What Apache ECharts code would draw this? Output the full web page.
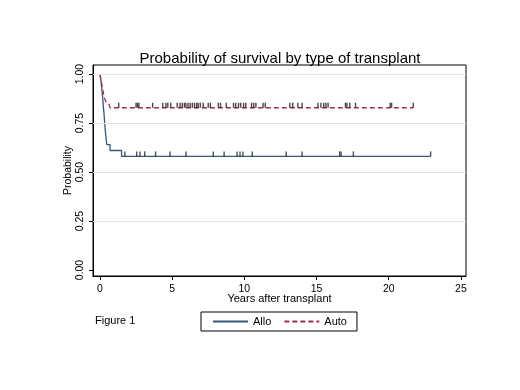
<!DOCTYPE html>
<html>
<head>
<meta charset="utf-8">
<script src="https://cdn.jsdelivr.net/npm/echarts@6/dist/echarts.min.js"></script>
<style>
  html, body { margin: 0; padding: 0; background: #fff; }
  #main { width: 520px; height: 390px; }
</style>
</head>
<body>
<div id="main"></div>
<script>
// Kaplan-Meier steps
const alloTimes = [0, 0.04, 0.08, 0.12, 0.16, 0.2, 0.24, 0.28, 0.32, 0.36, 0.4, 0.44, 0.48, 0.7, 1.5, 22.9];
const alloSurv = [1, 0.98, 0.96, 0.93, 0.9, 0.87, 0.83, 0.8, 0.76, 0.72, 0.69, 0.66, 0.64, 0.61, 0.58, 0.58];
const autoTimes = [0, 0.05, 0.1, 0.15, 0.2, 0.25, 0.3, 0.4, 0.5, 0.6, 0.7, 21.7];
const autoSurv = [1, 0.98, 0.96, 0.94, 0.92, 0.9, 0.88, 0.86, 0.85, 0.84, 0.828, 0.828];

// censoring times (small ticks on the curves)
const alloCensor = [1.73, 2.55, 2.77, 3.1, 3.85, 4.85, 5.96, 7.85, 8.6, 9.5, 9.7, 9.9, 10.55, 12.9, 14.0, 16.6, 16.7, 17.55, 22.9];
const autoCensor = [1.3, 2.5, 2.6, 2.7, 3.65, 4.35, 4.57, 4.7, 4.9, 5.35, 5.55, 5.7, 5.85, 5.95, 6.1, 6.25, 6.4, 6.55, 6.7, 6.8, 6.95, 7.15, 7.5, 7.65, 8.2, 8.35, 8.75, 9.25, 9.4, 9.6, 9.75, 9.95, 10.1, 10.5, 10.65, 10.8, 11.3, 11.45, 13.15, 13.35, 13.7, 14.0, 15.1, 15.3, 15.5, 15.65, 15.8, 17.0, 17.1, 17.3, 17.7, 20.1, 20.2, 21.7];

const xTicks = [0, 5, 10, 15, 20, 25];
const yTicks = [0, 0.25, 0.5, 0.75, 1];
const yGrid = [0.25, 0.5, 0.75, 1];

const font = 'Liberation Sans, Arial, sans-serif';

function pairs(ts, vs) {
  return ts.map((t, i) => [t, vs[i]]);
}
// survival value at time t from the step data
function survAt(ts, vs, t) {
  let s = vs[0];
  for (let i = 0; i < ts.length; i++) {
    if (ts[i] <= t) s = vs[i];
  }
  return s;
}

const chart = echarts.init(document.getElementById('main'));
const option = {
  animation: false,
  backgroundColor: '#fff',
  title: {
    text: 'Probability of survival by type of transplant',
    left: 275,
    top: 46,
    textAlign: 'center',
    textStyle: {fontFamily: font, fontSize: 15, fontWeight: 'normal', color: '#000'},
  },
  legend: {
    data: ['Allo', 'Auto'],
    left: 201,
    top: 312,
    borderColor: '#000',
    borderWidth: 1,
    padding: [4, 10, 4, 11],
    itemWidth: 35,
    itemHeight: 10,
    itemGap: 12,
    itemStyle: {opacity: 0, color: 'rgba(0,0,0,0)', borderWidth: 0},
    textStyle: {fontFamily: font, fontSize: 11, color: '#000'},
  },
  graphic: [{
    type: 'text',
    left: 95,
    top: 315,
    style: {text: 'Figure 1', font: '11px ' + font, fill: '#000'},
  }],
  grid: {
    left: 93,
    right: 54,
    top: 65,
    bottom: 114,
    show: true,
    borderColor: '#000',
    borderWidth: 1,
  },
  xAxis: {
    type: 'value',
    min: -0.48,
    max: 25.35,
    name: 'Years after transplant',
    nameLocation: 'middle',
    nameGap: 17,
    nameMoveOverlap: false,
    nameTextStyle: {fontFamily: font, fontSize: 11, color: '#000'},
    axisLine: {show: true, onZero: false, lineStyle: {color: '#000'}},
    axisTick: {show: true, customValues: xTicks, length: 4, lineStyle: {color: '#000'}},
    axisLabel: {customValues: xTicks, margin: 8, fontFamily: font, fontSize: 10.5, color: '#000'},
    splitLine: {show: false},
  },
  yAxis: {
    type: 'value',
    min: -0.03,
    max: 1.046,
    name: 'Probability',
    nameLocation: 'middle',
    nameGap: 19,
    nameMoveOverlap: false,
    nameTextStyle: {fontFamily: font, fontSize: 10.5, color: '#000'},
    axisLine: {show: true, onZero: false, lineStyle: {color: '#000'}},
    axisTick: {show: true, customValues: yTicks, length: 4, lineStyle: {color: '#000'}},
    axisLabel: {
      customValues: yTicks,
      rotate: 90,
      margin: 7,
      fontFamily: font,
      fontSize: 10.5,
      color: '#000',
      formatter: v => v.toFixed(2),
    },
    splitLine: {show: false},
  },
  series: [
    {
      name: 'grid',
      type: 'line',
      data: [],
      silent: true,
      z: 1,
      markLine: {
        silent: true,
        symbol: 'none',
        label: {show: false},
        lineStyle: {color: '#e3e3e3', type: 'solid', width: 1},
        data: yGrid.map(v => ({yAxis: v})),
      },
    },
    {
      name: 'Allo',
      type: 'line',
      step: 'end',
      symbol: 'none',
      z: 3,
      color: '#35587a',
      lineStyle: {width: 1.3, color: '#35587a'},
      data: pairs(alloTimes, alloSurv),
    },
    {
      name: 'Auto',
      type: 'line',
      step: 'end',
      symbol: 'none',
      z: 3,
      color: '#a3304c',
      lineStyle: {width: 1.3, color: '#a3304c', type: [5, 3]},
      data: pairs(autoTimes, autoSurv),
    },
    {
      name: 'alloCensor',
      type: 'scatter',
      symbol: 'rect',
      symbolSize: [1.4, 5],
      symbolOffset: [0, -2.5],
      z: 4,
      itemStyle: {color: '#1a2530'},
      data: alloCensor.map(t => [t, survAt(alloTimes, alloSurv, t)]),
    },
    {
      name: 'autoCensor',
      type: 'scatter',
      symbol: 'rect',
      symbolSize: [1.4, 5],
      symbolOffset: [0, -2.5],
      z: 4,
      itemStyle: {color: '#24161b'},
      data: autoCensor.map(t => [t, survAt(autoTimes, autoSurv, t)]),
    },
  ],
};
chart.setOption(option);
</script>
</body>
</html>
